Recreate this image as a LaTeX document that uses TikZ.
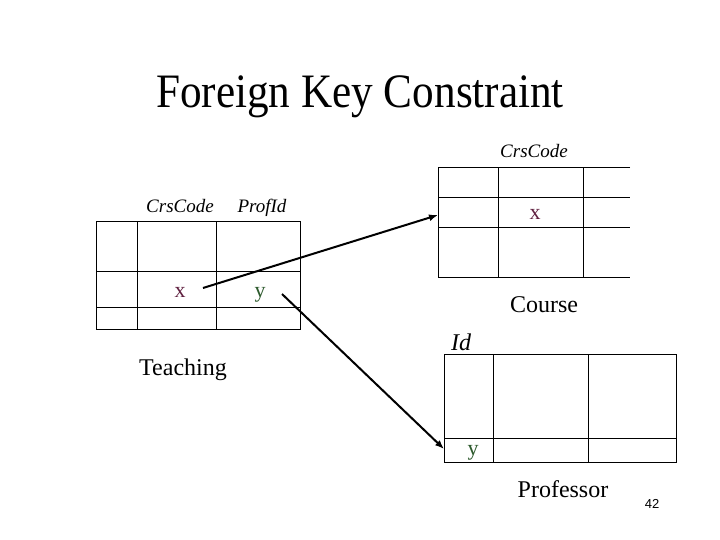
\documentclass[tikz,border=0pt]{standalone}
\usepackage{fontspec}
\setmainfont{Liberation Serif}
\newfontfamily\numfont{Liberation Sans}
\usetikzlibrary{arrows.meta}
\definecolor{xcol}{HTML}{602040}
\definecolor{ycol}{HTML}{2D5A2D}
\tikzset{
  grid/.style={draw=black, line width=1pt},
  lab/.style={inner sep=0pt, anchor=base},
  hdr/.style={lab, font=\fontsize{19}{19}\selectfont\itshape},
  big/.style={lab, font=\fontsize{24}{24}\selectfont},
  xval/.style={lab, font=\fontsize{22}{22}\selectfont, text=xcol},
  yval/.style={lab, font=\fontsize{22}{22}\selectfont, text=ycol},
  fk/.style={draw=black, line width=2pt, -{Latex[length=9pt,width=7pt]}}
}
\begin{document}
\begin{tikzpicture}[x=1pt,y=-1pt]
\useasboundingbox (0,0) rectangle (720,540);
\fill[white] (0,0) rectangle (720,540);

% Title
\node[lab, font=\fontsize{48}{48}\selectfont] (title) at (360,108) {\scalebox{0.9}[1]{Foreign Key Constraint}};

% Teaching table
\node[hdr] (thc) at (180,212) {CrsCode};
\node[hdr] (thp) at (262,212) {ProfId};
\draw[grid] (96,222) rectangle (300,329);
\draw[grid] (96,271) -- (300,271);
\draw[grid] (96,307) -- (300,307);
\draw[grid] (137,222) -- (137,329);
\draw[grid] (216,222) -- (216,329);
\node[xval] (tx) at (180,297) {x};
\node[yval] (ty) at (260,297) {y};
\node[big] (tname) at (183,375) {Teaching};

% Course table
\node[hdr] (chc) at (534,158) {CrsCode};
\draw[grid] (630,168) -- (438,168) -- (438,277) -- (630,277);
\draw[grid] (438,198) -- (630,198);
\draw[grid] (438,228) -- (630,228);
\draw[grid] (498,168) -- (498,277);
\draw[grid] (583,168) -- (583,277);
\node[xval] (cx) at (535,219) {x};
\node[big] (cname) at (544,312) {Course};

% Professor table
\node[lab, font=\fontsize{24}{24}\selectfont\itshape] (pid) at (461,350) {Id};
\draw[grid] (444,354) rectangle (676,462);
\draw[grid] (444,438) -- (676,438);
\draw[grid] (493,354) -- (493,462);
\draw[grid] (588,354) -- (588,462);
\node[yval] (py) at (473,455) {y};
\node[big] (pname) at (563,497) {Professor};
\node[lab, font=\numfont\fontsize{13}{13}\selectfont] (pagenum) at (652,508) {42};

% Foreign key connectors
\coordinate (xstart) at (203,288);
\coordinate (xend) at (438,215);
\coordinate (ystart) at (282,294);
\coordinate (yend) at (444,449);
\draw[fk] (xstart) -- (xend);
\draw[fk] (ystart) -- (yend);
\end{tikzpicture}
\end{document}
